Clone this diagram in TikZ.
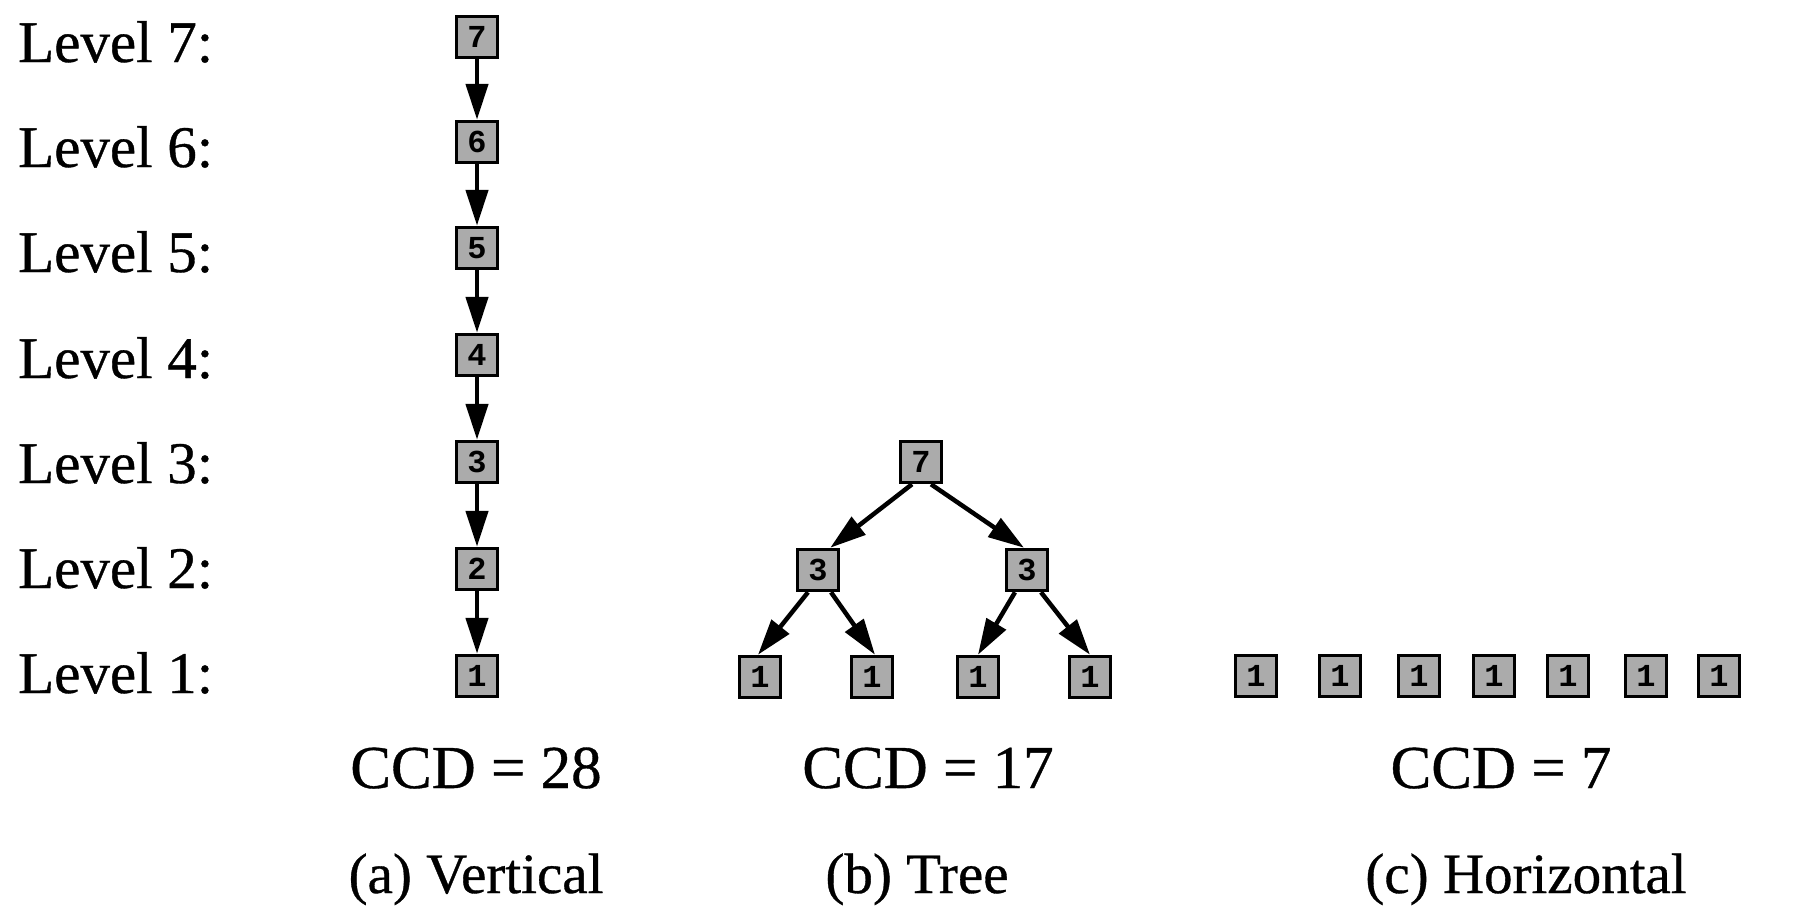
\documentclass[tikz,border=0pt]{standalone}
\usepackage{fontspec}
\setmainfont{Liberation Serif}[FakeBold=0.6,AutoFakeBold=0.6]
\newfontfamily\boxfont{Liberation Mono}
\usetikzlibrary{arrows.meta,calc}
\begin{document}
\begin{tikzpicture}[x=1pt,y=-1pt,
  blk/.style={draw=black,line width=3.5pt,fill=black!33,minimum width=41pt,minimum height=41pt,inner sep=0pt,font=\boxfont\bfseries\fontsize{32}{32}\selectfont},
  lvl/.style={anchor=base west,inner sep=0pt,font=\fontsize{59}{60}\selectfont},
  ccd/.style={anchor=base,inner sep=0pt,font=\fontsize{61}{64}\selectfont},
  captxt/.style={anchor=base,inner sep=0pt,font=\fontsize{57}{60}\selectfont},
  arr/.style={line width=4.5pt,-{Triangle[length=36pt,width=22pt]}}]
\useasboundingbox (0,0) rectangle (1800,908);
% level labels
\node[lvl] (l7) at (18,62) {Level 7:};
\node[lvl] (l6) at (18,167) {Level 6:};
\node[lvl] (l5) at (18,272) {Level 5:};
\node[lvl] (l4) at (18,378) {Level 4:};
\node[lvl] (l3) at (18,483) {Level 3:};
\node[lvl] (l2) at (18,588) {Level 2:};
\node[lvl] (l1) at (18,693) {Level 1:};
% vertical
\node[blk] (v7) at (477,37) {7};
\node[blk] (v6) at (477,142) {6};
\node[blk] (v5) at (477,248) {5};
\node[blk] (v4) at (477,355) {4};
\node[blk] (v3) at (477,462) {3};
\node[blk] (v2) at (477,569) {2};
\node[blk] (v1) at (477,676) {1};
\draw[arr] (v7) -- (v6);
\draw[arr] (v6) -- (v5);
\draw[arr] (v5) -- (v4);
\draw[arr] (v4) -- (v3);
\draw[arr] (v3) -- (v2);
\draw[arr] (v2) -- (v1);
% tree
\node[blk] (t7) at (921,462) {7};
\node[blk] (t3a) at (818,570) {3};
\node[blk] (t3b) at (1027,570) {3};
\node[blk] (t1a) at (760,677) {1};
\node[blk] (t1b) at (872,677) {1};
\node[blk] (t1c) at (978,677) {1};
\node[blk] (t1d) at (1090,677) {1};
\draw[arr] ($(t7.south)+(-9,0)$) -- ($(t3a.north east)+(-10,0)$);
\draw[arr] ($(t7.south)+(10,0)$) -- ($(t3b.north)+(-3,0)$);
\draw[arr] ($(t3a.south)+(-10,0)$) -- ($(t1a.north)+(-2,0)$);
\draw[arr] ($(t3a.south)+(13,0)$) -- ($(t1b.north)+(3,0)$);
\draw[arr] ($(t3b.south)+(-12,0)$) -- ($(t1c.north)+(0,0)$);
\draw[arr] ($(t3b.south)+(14,0)$) -- ($(t1d.north)+(0,0)$);
% horizontal
\node[blk] (h1) at (1256,676) {1};
\node[blk] (h2) at (1340,676) {1};
\node[blk] (h3) at (1419,676) {1};
\node[blk] (h4) at (1494,676) {1};
\node[blk] (h5) at (1568,676) {1};
\node[blk] (h6) at (1646,676) {1};
\node[blk] (h7) at (1719,676) {1};
% CCD and captions
\node[ccd] (c1) at (476,788) {CCD = 28};
\node[ccd] (c2) at (928,788) {CCD = 17};
\node[ccd] (c3) at (1501,788) {CCD = 7};
\node[captxt] (a) at (476,893) {(a) Vertical};
\node[captxt] (b) at (917,893) {(b) Tree};
\node[captxt] (c) at (1526,893) {(c) Horizontal};
\end{tikzpicture}
\end{document}
